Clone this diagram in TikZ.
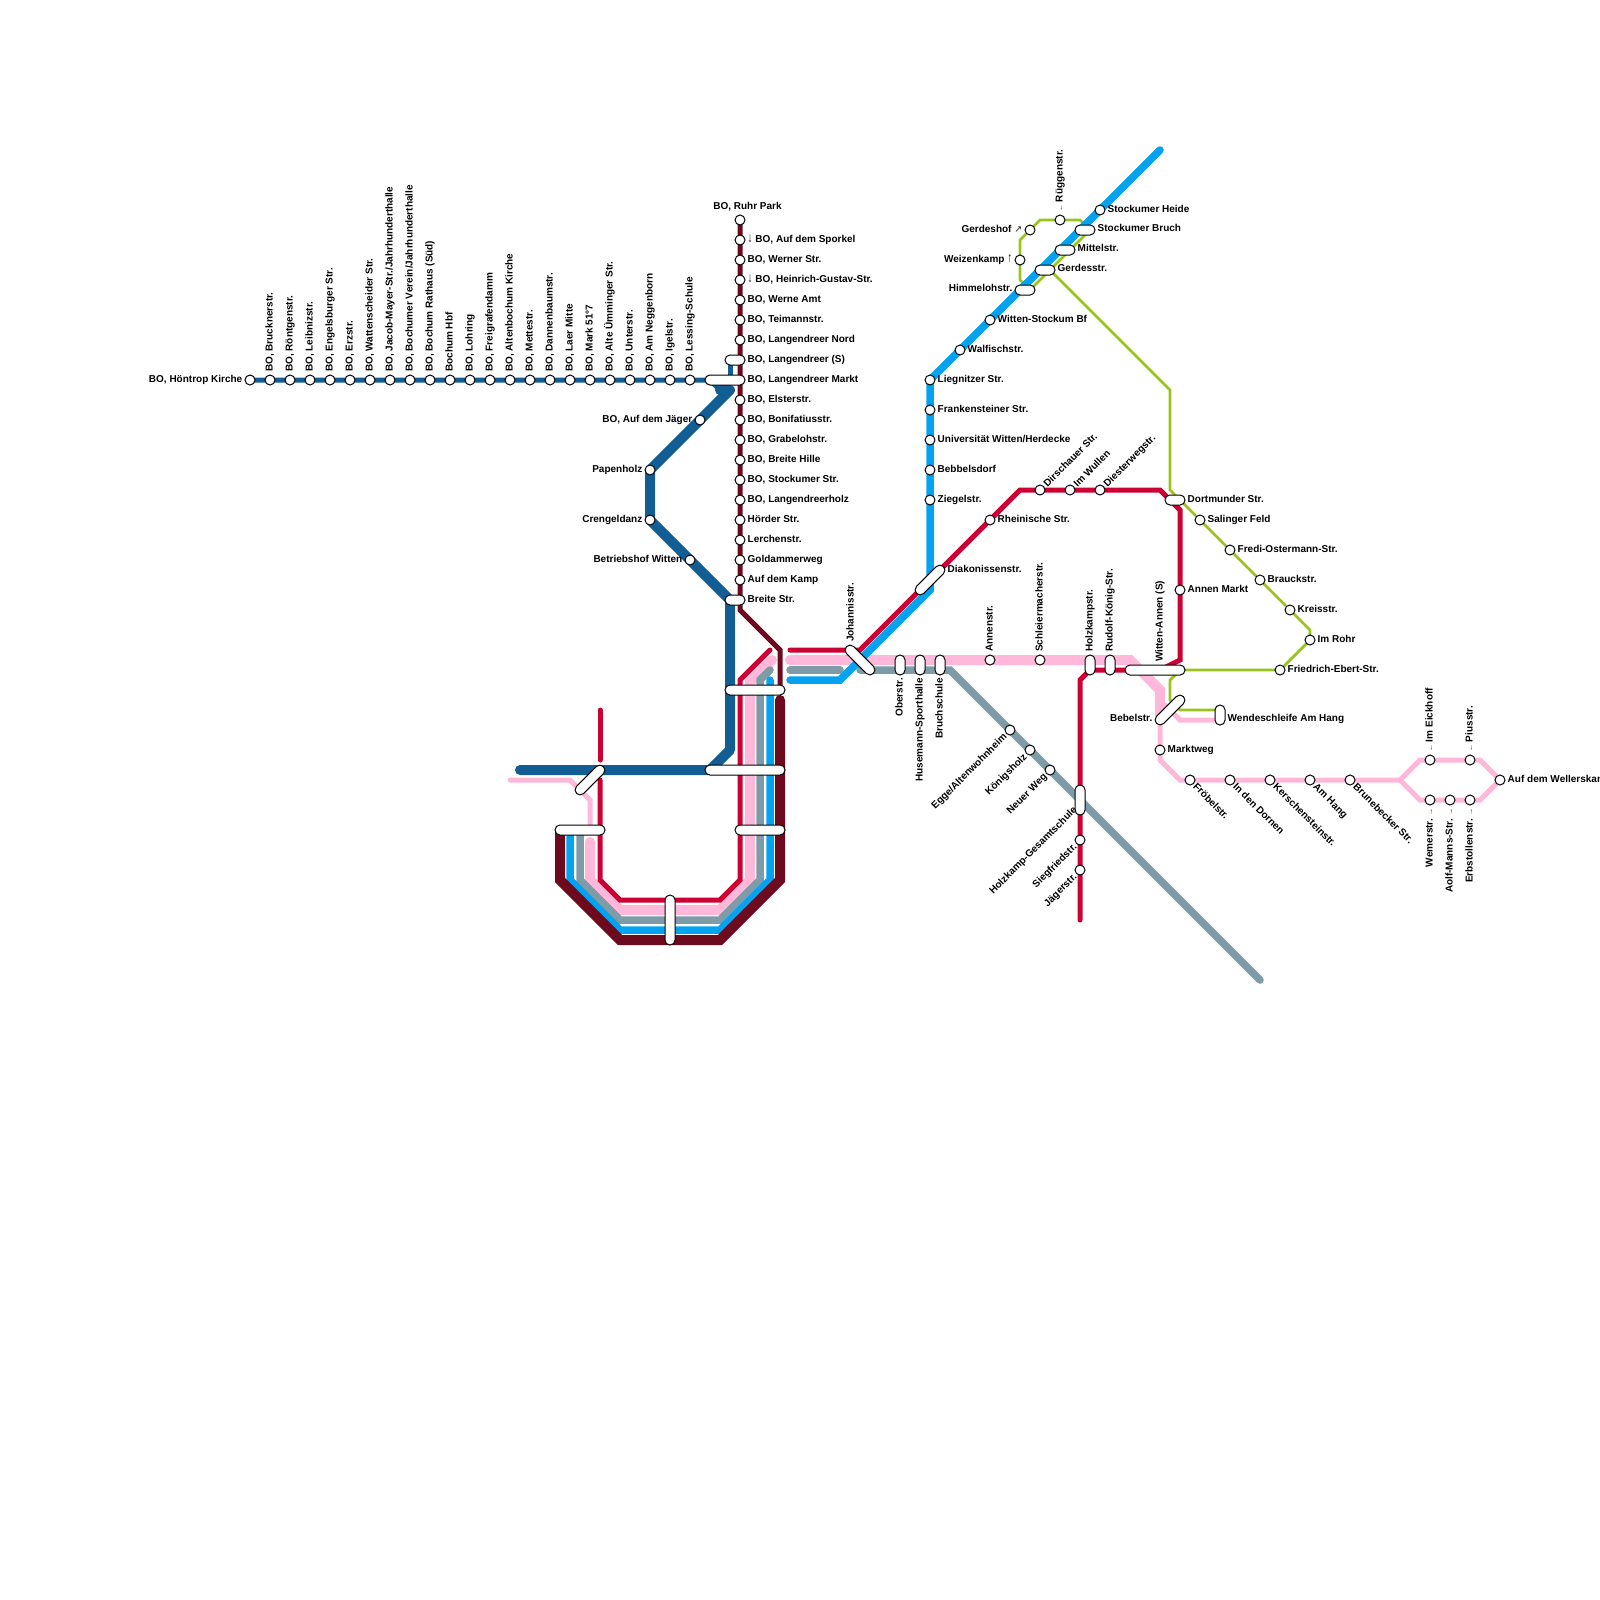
\documentclass[tikz,border=0pt]{standalone}
\usepackage{fontspec}
\setmainfont{Liberation Sans}
\newfontfamily\arrowfont{DejaVu Sans}
\usetikzlibrary{backgrounds}
\definecolor{skyline}{HTML}{05A3EF}
\definecolor{redline}{HTML}{CC0033}
\definecolor{pinkline}{HTML}{FFB8D9}
\definecolor{grayline}{HTML}{7D9CA8}
\definecolor{maroonline}{HTML}{6E0A1E}
\definecolor{navyline}{HTML}{125D94}
\definecolor{greenline}{HTML}{9AC31C}
\definecolor{arrowgray}{HTML}{222222}
\newcommand{\dnar}{{\color{arrowgray}\scalebox{1}[1.4]{↓}}}
\newcommand{\upar}{{\color{arrowgray}\scalebox{1}[1.4]{↑}}}
\newcommand{\nearr}{{\color{arrowgray}\arrowfont\mdseries\fontsize{9.5}{10}\selectfont ↗}}
\newcommand{\sideL}{{\color{arrowgray}\fontsize{7}{8}\selectfont ←}}
\newcommand{\sideR}{{\color{arrowgray}\fontsize{7}{8}\selectfont →}}
\tikzset{
	station/.style={circle, draw=black, fill=white, line width=1, minimum size=10, inner sep=0},
	pill/.style={rectangle, draw=black, fill=white, line width=1, rounded corners=4.9, minimum height=10, inner sep=0},
	lbl/.style={inner sep=0, text height=7, text depth=0},
	tright/.style={lbl, xshift=7.5, yshift=1.2, anchor=west},
	tleft/.style={lbl, xshift=-7.5, yshift=.8, anchor=east},
	tup/.style={lbl, xshift=-1, yshift=8, rotate=90, anchor=west},
	tdown/.style={lbl, xshift=-1, yshift=-8, rotate=90, anchor=east},
	tne/.style={lbl, xshift=5, yshift=5, rotate=45, anchor=west},
	tsw/.style={lbl, xshift=-5, yshift=-5, rotate=45, anchor=east},
	tse/.style={lbl, xshift=5, yshift=-5, rotate=-45, anchor=west},
	route/.style={line cap=round, line join=miter}
}
\begin{document}
\begin{tikzpicture}[x=1pt, y=-1pt, font=\fontsize{10}{12}\selectfont\bfseries]
	\useasboundingbox (0,0) rectangle (1600,1600);
	% stations with their labels
	\foreach \n/\x/\y/\s/\t in {
		hoe/250/380/tleft/{BO, Höntrop Kirche}, a1/270/380/tup/{BO, Brucknerstr.}, a2/290/380/tup/{BO, Röntgenstr.}, a3/310/380/tup/{BO, Leibnizstr.},
		a4/330/380/tup/{BO, Engelsburger Str.}, a5/350/380/tup/{BO, Erzstr.}, a6/370/380/tup/{BO, Wattenscheider Str.}, a7/390/380/tup/{BO, Jacob-Mayer-Str./Jahrhunderthalle},
		a8/410/380/tup/{BO, Bochumer Verein/Jahrhunderthalle}, a9/430/380/tup/{BO, Bochum Rathaus (Süd)}, a10/450/380/tup/{Bochum Hbf}, a11/470/380/tup/{BO, Lohring},
		a12/490/380/tup/{BO, Freigrafendamm}, a13/510/380/tup/{BO, Altenbochum Kirche}, a14/530/380/tup/{BO, Mettestr.}, a15/550/380/tup/{BO, Dannenbaumstr.},
		a16/570/380/tup/{BO, Laer Mitte}, a17/590/380/tup/{BO, Mark 51°7}, a18/610/380/tup/{BO, Alte Ümminger Str.}, a19/630/380/tup/{BO, Unterstr.},
		a20/650/380/tup/{BO, Am Neggenborn}, a21/670/380/tup/{BO, Igelstr.}, a22/690/380/tup/{BO, Lessing-Schule},
		b1/740/240/tright/{\dnar{} BO, Auf dem Sporkel}, b2/740/260/tright/{BO, Werner Str.}, b3/740/280/tright/{\dnar{} BO, Heinrich-Gustav-Str.},
		b4/740/300/tright/{BO, Werne Amt}, b5/740/320/tright/{BO, Teimannstr.}, b6/740/340/tright/{BO, Langendreer Nord},
		b7/740/400/tright/{BO, Elsterstr.}, b8/740/420/tright/{BO, Bonifatiusstr.}, b9/740/440/tright/{BO, Grabelohstr.}, b10/740/460/tright/{BO, Breite Hille},
		b11/740/480/tright/{BO, Stockumer Str.}, b12/740/500/tright/{BO, Langendreerholz}, b13/740/520/tright/{Hörder Str.}, b14/740/540/tright/{Lerchenstr.},
		b15/740/560/tright/{Goldammerweg}, b16/740/580/tright/{Auf dem Kamp},
		jaeger/700/420/tleft/{BO, Auf dem Jäger}, papen/650/470/tleft/{Papenholz}, creng/650/520/tleft/{Crengeldanz}, betrieb/690/560/tleft/{Betriebshof Witten},
		lieg/930/380/tright/{Liegnitzer Str.}, frank/930/410/tright/{Frankensteiner Str.}, uni/930/440/tright/{Universität Witten/Herdecke}, bebb/930/470/tright/{Bebbelsdorf},
		ziegel/930/500/tright/{Ziegelstr.}, walf/960/350/tright/{Walfischstr.}, stockbf/990/320/tright/{Witten-Stockum Bf}, heide/1100/210/tright/{Stockumer Heide},
		gerdhof/1030/230/tleft/{Gerdeshof \nearr}, ruegg/1060/220/tup/{\sideL{} Rüggenstr.}, weiz/1020/260/tleft/{Weizenkamp \upar},
		rhein/990/520/tright/{Rheinische Str.}, dirsch/1040/490/tne/{Dirschauer Str.}, wullen/1070/490/tne/{Im Wullen}, diest/1100/490/tne/{Diesterwegstr.},
		annmarkt/1180/590/tright/{Annen Markt}, annenstr/990/660/tup/{Annenstr.}, schleier/1040/660/tup/{Schleiermacherstr.},
		egge/1010/730/tsw/{Egge/Altenwohnheim}, koenig/1030/750/tsw/{Königsholz}, neuer/1050/770/tsw/{Neuer Weg}, sieg/1080/840/tsw/{Siegfriedstr.}, jaegerstr/1080/870/tsw/{Jägerstr.},
		salinger/1200/520/tright/{Salinger Feld}, fredi/1230/550/tright/{Fredi-Ostermann-Str.}, brauck/1260/580/tright/{Brauckstr.}, kreis/1290/610/tright/{Kreisstr.},
		rohr/1310/640/tright/{Im Rohr}, ebert/1280/670/tright/{Friedrich-Ebert-Str.},
		markt/1160/750/tright/{Marktweg}, froebel/1190/780/tse/{Fröbelstr.}, dornen/1230/780/tse/{In den Dornen}, kersch/1270/780/tse/{Kerschensteinstr.},
		hang/1310/780/tse/{Am Hang}, brune/1350/780/tse/{Brunebecker Str.}, eick/1430/760/tup/{\sideL{} Im Eickhoff}, pius/1470/760/tup/{\sideL{} Piusstr.},
		wellers/1500/780/tright/{Auf dem Wellerskamp}, wemer/1430/800/tdown/{Wemerstr. \sideR}, aolf/1450/800/tdown/{Aolf-Manns-Str. \sideR}, erb/1470/800/tdown/{Erbstollenstr. \sideR}
	}{
		\node[station] (\n) at (\x,\y) {};
		\node[\s] (t\n) at (\n) {\t};
	}
	\node[station] (ruhr) at (740,220) {};
	\node[lbl] (truhr) at (747.5,206) {BO, Ruhr Park};
	% interchanges
	\node[pill, minimum width=20] (lanS) at (735,360) {};
	\node[pill, minimum width=40] (lanM) at (725,380) {};
	\node[pill, minimum width=20] (breite) at (735,600) {};
	\node[pill, minimum width=60] (gateA) at (755,690) {};
	\node[pill, minimum width=80] (gateB) at (745,770) {};
	\node[pill, minimum width=50] (gateC) at (760,830) {};
	\node[pill, minimum width=50] (gateD) at (580,830) {};
	\node[pill, minimum width=50, rotate=90] (gateE) at (670,920) {};
	\node[pill, minimum width=38, rotate=45] (gateF) at (590,780) {};
	\node[pill, minimum width=38, rotate=-45] (johann) at (860,660) {};
	\node[pill, minimum width=38, rotate=45] (diak) at (930,580) {};
	\node[pill, minimum width=20, rotate=90] (ober) at (900,665) {};
	\node[pill, minimum width=20, rotate=90] (huse) at (920,665) {};
	\node[pill, minimum width=20, rotate=90] (bruch) at (940,665) {};
	\node[pill, minimum width=20, rotate=90] (holz) at (1090,665) {};
	\node[pill, minimum width=20, rotate=90] (rudolf) at (1110,665) {};
	\node[pill, minimum width=60] (annen) at (1155,670) {};
	\node[pill, minimum width=38, rotate=45] (bebel) at (1170,710) {};
	\node[pill, minimum width=20, rotate=90] (wende) at (1220,715) {};
	\node[pill, minimum width=20] (dort) at (1175,500) {};
	\node[pill, minimum width=20] (himmel) at (1025,290) {};
	\node[pill, minimum width=20] (gerdes) at (1045,270) {};
	\node[pill, minimum width=20] (mittel) at (1065,250) {};
	\node[pill, minimum width=20] (sbruch) at (1085,230) {};
	\node[pill, minimum width=30, rotate=90] (gesamt) at (1080,800) {};
	\node[tright] (tlanS) at (740,360) {BO, Langendreer (S)};
	\node[tright] (tlanM) at (740,380) {BO, Langendreer Markt};
	\node[tright] (tbreite) at (740,600) {Breite Str.};
	\node[tup] (tjohann) at (851,650) {Johannisstr.};
	\node[tright] (tdiak) at (940,570) {Diakonissenstr.};
	\node[tdown] (tober) at (900,670) {Oberstr.};
	\node[tdown] (thuse) at (920,670) {Husemann-Sporthalle};
	\node[tdown] (tbruch) at (940,670) {Bruchschule};
	\node[tup] (tholz) at (1090,660) {Holzkampstr.};
	\node[tup] (trudolf) at (1110,660) {Rudolf-König-Str.};
	\node[tup] (tannen) at (1160,670) {Witten-Annen (S)};
	\node[tleft] (tbebel) at (1160,719) {Bebelstr.};
	\node[tright] (twende) at (1220,719) {Wendeschleife Am Hang};
	\node[tright] (tdort) at (1180,500) {Dortmunder Str.};
	\node[tleft] (thimmel) at (1020,289) {Himmelohstr.};
	\node[tright] (tgerdes) at (1050,269) {Gerdesstr.};
	\node[tright] (tmittel) at (1070,249) {Mittelstr.};
	\node[tright] (tsbruch) at (1090,229) {Stockumer Bruch};
	\node[tsw] (tgesamt) at (1080,803) {Holzkamp-Gesamtschule};
	% bends
	\coordinate (g1) at (1030,290); \coordinate (g2) at (1020,280); \coordinate (g3) at (1020,240); \coordinate (g4) at (1040,220); \coordinate (g5) at (1080,220); \coordinate (g6) at (1090,230);
	\coordinate (g7) at (1050,270); \coordinate (g8) at (1170,390); \coordinate (g9) at (1170,490); \coordinate (g10) at (1310,630);
	\coordinate (g11) at (1170,680); \coordinate (g12) at (1170,700); \coordinate (g13) at (1180,710); \coordinate (g14) at (1180,670); \coordinate (g15) at (1220,710);
	\coordinate (p1) at (790,660); \coordinate (p2) at (1130,660); \coordinate (p3) at (1160,690); \coordinate (p4) at (1160,715);
	\coordinate (p5) at (1165,705); \coordinate (p6) at (1180,720); \coordinate (p7) at (1160,725); \coordinate (p8) at (1160,760); \coordinate (p9) at (1180,780);
	\coordinate (p10) at (1400,780); \coordinate (p11) at (1420,760); \coordinate (p12) at (1480,760); \coordinate (p13) at (1480,800); \coordinate (p14) at (1420,800);
	\coordinate (p15) at (772,660); \coordinate (p16) at (750,682); \coordinate (p17) at (750,880); \coordinate (p18) at (720,910); \coordinate (p19) at (620,910); \coordinate (p20) at (590,880); \coordinate (p21) at (590,842);
	\coordinate (p22) at (510,780); \coordinate (p23) at (570,780); \coordinate (p24) at (590,800); \coordinate (p25) at (590,825); \coordinate (p26) at (1220,720);
	\coordinate (k1) at (790,670); \coordinate (k2) at (840,670); \coordinate (k3) at (860,670); \coordinate (k4) at (950,670); \coordinate (k5) at (1260,980);
	\coordinate (k6) at (770,670); \coordinate (k7) at (760,680); \coordinate (k8) at (760,880); \coordinate (k9) at (720,920); \coordinate (k10) at (620,920); \coordinate (k11) at (580,880); \coordinate (k12) at (580,830);
	\coordinate (s1) at (1160,150); \coordinate (s2) at (930,590); \coordinate (s3) at (840,680); \coordinate (s4) at (790,680);
	\coordinate (s5) at (770,680); \coordinate (s6) at (770,880); \coordinate (s7) at (720,930); \coordinate (s8) at (620,930); \coordinate (s9) at (570,880); \coordinate (s10) at (570,830);
	\coordinate (n0) at (730,360); \coordinate (n00) at (730,380);
	\coordinate (n1) at (710,380); \coordinate (n2) at (720,390); \coordinate (n3) at (730,390); \coordinate (n4) at (730,750); \coordinate (n5) at (710,770); \coordinate (n6) at (520,770); \coordinate (n7) at (730,600);
	\coordinate (m1) at (740,610); \coordinate (m2) at (780,650); \coordinate (m3) at (780,690); \coordinate (m4) at (780,700); \coordinate (m5) at (780,880); \coordinate (m6) at (720,940); \coordinate (m7) at (620,940); \coordinate (m8) at (560,880); \coordinate (m9) at (560,830);
	\coordinate (r1) at (790,650); \coordinate (r2) at (860,650); \coordinate (r3) at (1020,490); \coordinate (r4) at (1160,490); \coordinate (r5) at (1180,510); \coordinate (r6) at (1180,660); \coordinate (r7) at (1160,670);
	\coordinate (r8) at (1090,670); \coordinate (r9) at (1080,680); \coordinate (r10) at (1080,920);
	\coordinate (r11) at (770,650); \coordinate (r12) at (740,680); \coordinate (r13) at (740,880); \coordinate (r14) at (720,900); \coordinate (r15) at (620,900); \coordinate (r16) at (600,880); \coordinate (r17) at (600,780); \coordinate (r18) at (600,760); \coordinate (r19) at (600,710);
	% the lines go under the stations
	\begin{scope}[on background layer]
		\draw[route, greenline, line width=2.8] (g1)--(g2)--(g3)--(g4)--(g5)--(g6)--(g1);
		\draw[route, greenline, line width=2.8] (g7)--(g8)--(g9)--(g10)--(rohr.center)--(ebert.center)--(annen.center);
		\draw[route, greenline, line width=2.8] (g14)--(g11)--(g12)--(g13)--(g15);
		\draw[route, pinkline, line width=10] (p1)--(p2)--(p3)--(p4);
		\draw[route, pinkline, line width=5] (p5)--(p6)--(p26);
		\draw[route, pinkline, line width=5] (p7)--(p8)--(p9)--(p10)--(p11)--(p12)--(wellers.center)--(p13)--(p14)--(p10);
		\draw[route, pinkline, line width=10] (p15)--(p16)--(p17)--(p18)--(p19)--(p20)--(p21);
		\draw[route, pinkline, line width=5] (p22)--(p23)--(p24)--(p25);
		\draw[route, grayline, line width=7.5] (k1)--(k2);
		\draw[route, grayline, line width=7.5] (k3)--(k4)--(k5);
		\draw[route, grayline, line width=7.5] (k6)--(k7)--(k8)--(k9)--(k10)--(k11)--(k12);
		\draw[route, skyline, line width=7.5] (s1)--(lieg.center)--(s2)--(s3)--(s4);
		\draw[route, skyline, line width=7.5] (s5)--(s6)--(s7)--(s8)--(s9)--(s10);
		\draw[route, navyline, line width=5] (hoe.center)--(n1)--(n2);
		\draw[route, navyline, line width=5] (n0)--(n00);
		\draw[route, navyline, line width=10, line join=round] (n2)--(n3)--(papen.center)--(creng.center)--(n7)--(n4)--(n5)--(n6);
		\draw[route, maroonline, line width=5] (ruhr.center)--(m1)--(m2)--(m3);
		\draw[route, maroonline, line width=10] (m4)--(m5)--(m6)--(m7)--(m8)--(m9);
		\draw[route, redline, line width=5] (r1)--(r2)--(r3)--(r4)--(r5)--(r6)--(r7)--(r8)--(r9)--(r10);
		\draw[route, redline, line width=5] (r11)--(r12)--(r13)--(r14)--(r15)--(r16)--(r17);
		\draw[route, redline, line width=5] (r18)--(r19);
	\end{scope}
\end{tikzpicture}
\end{document}
